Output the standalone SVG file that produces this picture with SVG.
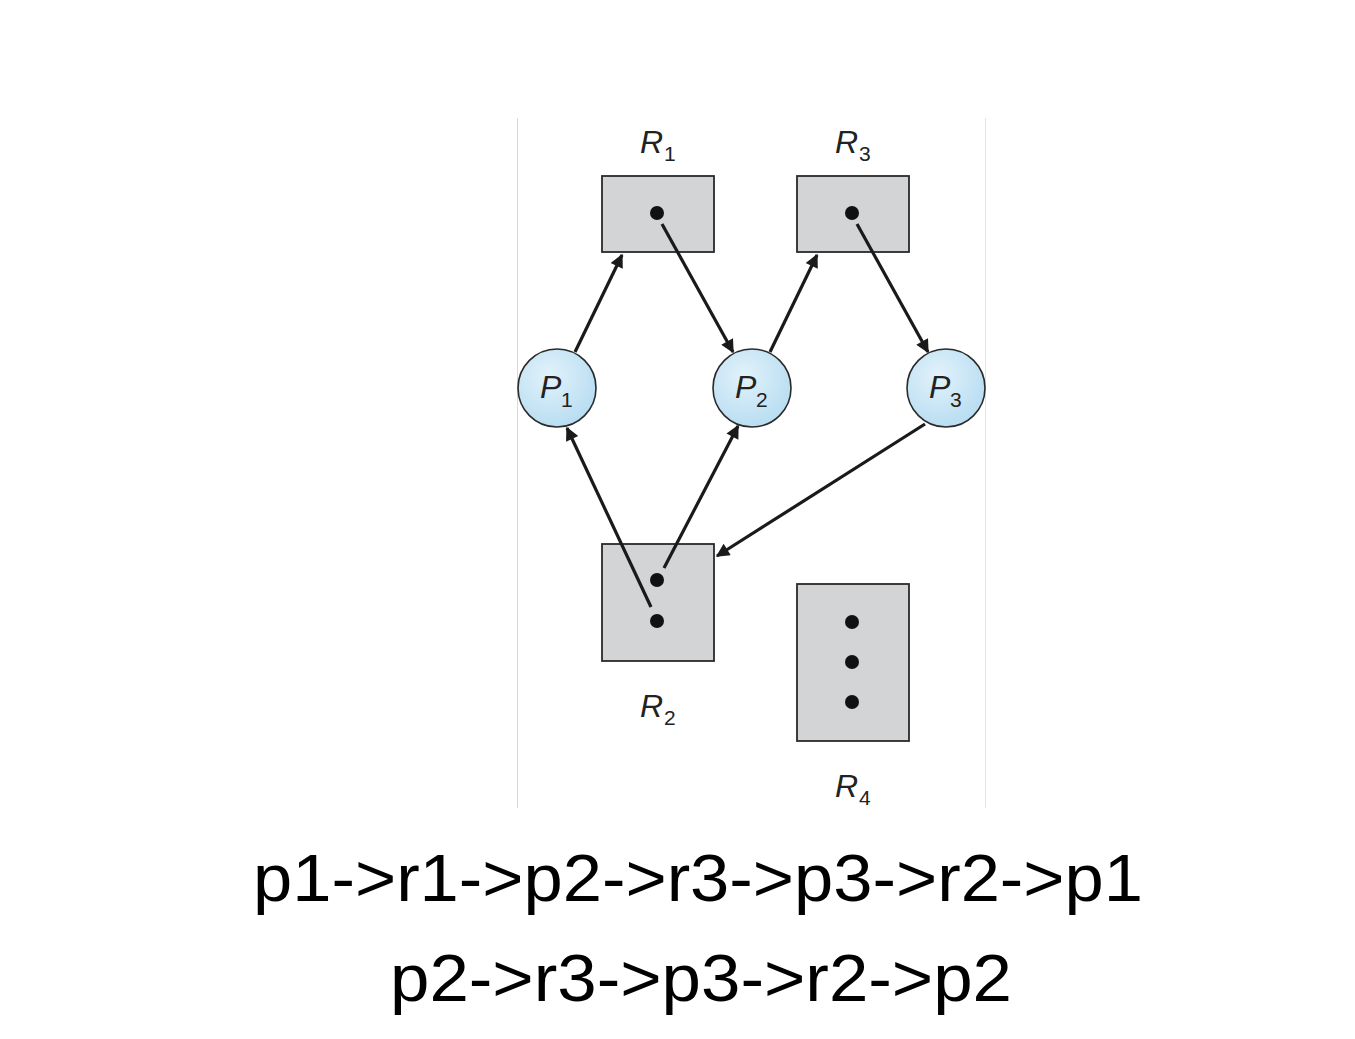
<svg xmlns="http://www.w3.org/2000/svg" width="1355" height="1039" viewBox="0 0 1355 1039">
<style>
.box{fill:#d3d4d6;stroke:#2a2a2a;stroke-width:1.8}
.proc{fill:url(#pg);stroke:#2a2a2a;stroke-width:1.6}
.dot{fill:#111}
.edge{stroke:#1a1a1a;stroke-width:3.2;fill:none;marker-end:url(#ah)}
.lbl{font-family:"Liberation Sans",Arial,sans-serif;font-style:italic;font-size:32px;fill:#222}
.sub{font-family:"Liberation Sans",Arial,sans-serif;font-size:21px;fill:#222}
.big{font-family:"Liberation Sans",Arial,sans-serif;font-size:66px;fill:#000}
</style>
<defs>
<radialGradient id="pg" cx="0.4" cy="0.35" r="0.7">
<stop offset="0" stop-color="#e2f2fb"/>
<stop offset="1" stop-color="#b6dcf1"/>
</radialGradient>
<marker id="ah" viewBox="0 0 10 10" refX="9" refY="5" markerWidth="5.5" markerHeight="4.2" markerUnits="strokeWidth" orient="auto">
<path d="M0,0 L10,5 L0,10 Z" fill="#1a1a1a"/>
</marker>
</defs>
<rect width="1355" height="1039" fill="#fff"/>
<line x1="517.5" y1="118" x2="517.5" y2="808" stroke="#d8d8d8" stroke-width="1"/>
<line x1="985.5" y1="118" x2="985.5" y2="808" stroke="#e4e4e4" stroke-width="1"/>
<g id="R1">
<rect class="box" x="602" y="176" width="112" height="76"/>
<circle class="dot" cx="657" cy="213" r="7"/>
<text class="lbl" x="640" y="153">R</text><text class="sub" x="664" y="161">1</text>
</g>
<g id="R3">
<rect class="box" x="797" y="176" width="112" height="76"/>
<circle class="dot" cx="852" cy="213" r="7"/>
<text class="lbl" x="835" y="153">R</text><text class="sub" x="859" y="161">3</text>
</g>
<g id="R2">
<rect class="box" x="602" y="544" width="112" height="117"/>
<circle class="dot" cx="657" cy="580" r="7"/>
<circle class="dot" cx="657" cy="621" r="7"/>
<text class="lbl" x="640" y="717">R</text><text class="sub" x="664" y="725">2</text>
</g>
<g id="R4">
<rect class="box" x="797" y="584" width="112" height="157"/>
<circle class="dot" cx="852" cy="622" r="7"/>
<circle class="dot" cx="852" cy="662" r="7"/>
<circle class="dot" cx="852" cy="702" r="7"/>
<text class="lbl" x="835" y="797">R</text><text class="sub" x="859" y="805">4</text>
</g>
<g id="P1">
<circle class="proc" cx="557" cy="388" r="39"/>
<text class="lbl" x="540" y="398">P</text><text class="sub" x="561" y="407">1</text>
</g>
<g id="P2">
<circle class="proc" cx="752" cy="388" r="39"/>
<text class="lbl" x="735" y="398">P</text><text class="sub" x="756" y="407">2</text>
</g>
<g id="P3">
<circle class="proc" cx="946" cy="388" r="39"/>
<text class="lbl" x="929" y="398">P</text><text class="sub" x="950" y="407">3</text>
</g>
<g id="edges">
<line class="edge" x1="575" y1="352" x2="622" y2="255"/>
<line class="edge" x1="662" y1="224" x2="733" y2="352"/>
<line class="edge" x1="770" y1="352" x2="817" y2="255"/>
<line class="edge" x1="857" y1="224" x2="928" y2="352"/>
<line class="edge" x1="925" y1="424" x2="717" y2="556"/>
<line class="edge" x1="651" y1="607" x2="567" y2="428"/>
<line class="edge" x1="664" y1="568" x2="738" y2="426"/>
</g>
<g id="caption">
<text class="big" x="253" y="901" textLength="890" lengthAdjust="spacingAndGlyphs">p1-&gt;r1-&gt;p2-&gt;r3-&gt;p3-&gt;r2-&gt;p1</text>
<text class="big" x="390" y="1001" textLength="622" lengthAdjust="spacingAndGlyphs">p2-&gt;r3-&gt;p3-&gt;r2-&gt;p2</text>
</g>
</svg>
